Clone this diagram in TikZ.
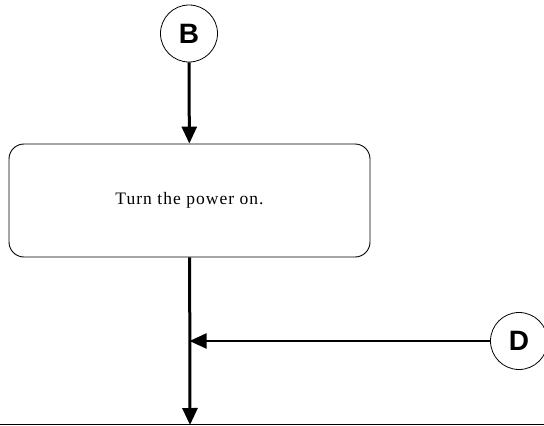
\documentclass[tikz,border=0pt]{standalone}
\usepackage{fontspec}
\setmainfont{Liberation Serif}
\setsansfont{Liberation Sans}
\newfontfamily\stepfont[LetterSpace=6]{Liberation Serif}
\usetikzlibrary{arrows.meta}

\begin{document}
\begin{tikzpicture}[x=1pt, y=-1pt,
  connector/.style={circle, draw, line width=0.8pt, minimum size=57pt, inner sep=0pt,
    font=\sffamily\bfseries\fontsize{28}{28}\selectfont},
  process/.style={rectangle, rounded corners=15pt, draw, line width=0.9pt,
    minimum width=361pt, minimum height=113pt, font=\stepfont\fontsize{17.5}{19}\selectfont},
  flow/.style={line width=3pt, -{Triangle[length=17pt, width=15pt]}},
  side flow/.style={line width=2pt, -{Triangle[length=17pt, width=15pt]}},
  base line/.style={line width=1pt}
]
  % keep the page the size of the reference
  \useasboundingbox (0,0) rectangle (544,426);

  % off-page connector at the top and the single process step
  \node[connector] (B) at (189,33.5) {B};
  \node[process] (power) at (189.5,200.5) {Turn the power on.};

  % connector coming in from the right
  \node[connector] (D) at (519,341) {D};
  \coordinate (join) at (power.south |- D.west);
  \coordinate (end) at (190,425);

  % bottom edge of the page
  \coordinate (left edge) at (0,424);
  \coordinate (right edge) at (544,424);
  \draw[base line] (left edge) -- (right edge);

  % flow lines
  \draw[flow] (B) -- (power);
  \draw[flow] (power) -- (end);
  \draw[side flow] (D) -- (join);
\end{tikzpicture}
\end{document}
